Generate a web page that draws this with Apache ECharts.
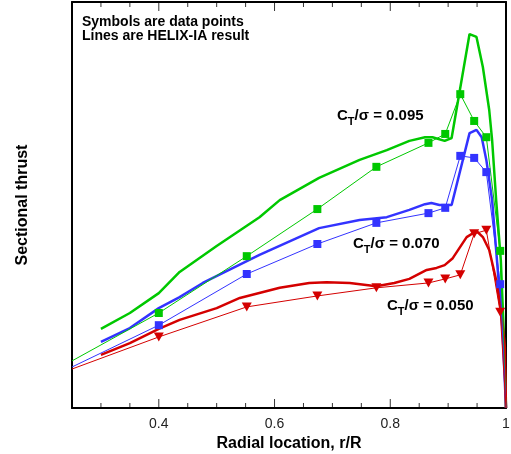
<!DOCTYPE html>
<html><head><meta charset="utf-8">
<script src="https://cdn.jsdelivr.net/npm/echarts@6/dist/echarts.min.js"></script>
<style>html,body{margin:0;padding:0;background:#fff}#c{width:511px;height:454px}</style>
</head><body><div id="c"></div>
<script>
// HELIX-IA result lines [r/R, thrust]
const helix095 = [[0.30,19.5],[0.35,23.4],[0.40,28.3],[0.436,33.5],[0.50,39.9],[0.574,47.0],[0.609,51.2],[0.677,56.7],[0.747,61.1],[0.794,63.5],[0.833,65.8],[0.86,66.7],[0.873,66.7],[0.894,65.8],[0.906,66.5],[0.937,92.1],[0.949,91.4],[0.96,84.0],[0.971,73.4],[0.976,66.0],[0.983,51.2],[0.991,36.5],[0.996,19.2],[1.0,0]];
const helix070 = [[0.30,16.3],[0.35,19.7],[0.40,24.6],[0.436,27.3],[0.476,30.8],[0.574,37.7],[0.677,44.3],[0.747,46.3],[0.794,47.0],[0.833,48.8],[0.86,50.2],[0.871,50.5],[0.885,50.0],[0.906,50.0],[0.937,67.7],[0.949,68.5],[0.958,66.7],[0.966,61.1],[0.976,51.2],[0.983,38.9],[0.994,19.2],[1.0,0]];
const helix050 = [[0.30,13.1],[0.35,16.0],[0.40,19.5],[0.436,21.7],[0.50,24.6],[0.54,27.1],[0.609,29.6],[0.66,30.8],[0.69,31.0],[0.73,30.8],[0.776,30.0],[0.807,30.8],[0.833,31.8],[0.863,34.0],[0.88,34.5],[0.894,35.2],[0.908,36.9],[0.932,42.1],[0.949,43.6],[0.96,42.1],[0.971,38.9],[0.983,31.5],[0.992,23.4],[0.998,15.0],[1.0,0]];
// Measured data points (first and last entries are line ends without symbols)
const data095 = [[0.25,11.6],[0.40,23.4],[0.552,37.4],[0.674,49.0],[0.776,59.4],[0.866,65.3],[0.895,67.5],[0.921,77.3],[0.945,70.7],[0.966,66.7],[0.990,38.7],[1.0,0]];
const data070 = [[0.25,10.1],[0.40,20.4],[0.552,33.0],[0.674,40.4],[0.776,45.6],[0.866,48.0],[0.895,49.3],[0.921,62.1],[0.945,61.6],[0.966,58.1],[0.990,30.5],[1.0,0]];
const data050 = [[0.25,9.6],[0.40,17.5],[0.552,24.9],[0.674,27.6],[0.776,29.6],[0.866,30.8],[0.895,31.8],[0.921,32.8],[0.945,42.9],[0.966,43.8],[0.990,23.6],[1.0,0]];
// Axis tick positions (every 0.05) and labelled majors
const tickValues = [0.30,0.35,0.40,0.45,0.50,0.55,0.60,0.65,0.70,0.75,0.80,0.85,0.90,0.95];
const majorTicks = [0.4,0.6,0.8,1.0];

const FONT = 'Liberation Sans, Arial, Helvetica, sans-serif';
const GREEN = '#00c800', BLUE = '#3333ff', RED = '#d40000';
const Y_MIN = 0, Y_MAX = 100;

function pts(arr){
  return arr.map((p,i)=> (i===0||i===arr.length-1) ? {value:p, symbol:'none'} : {value:p});
}
function isMajor(v){ return majorTicks.some(m=>Math.abs(m-v)<1e-6); }
function tickData(yv, dir){
  return tickValues.map(v=>{
    const len = isMajor(v) ? 9 : 5;
    return {value:[v, yv], symbolSize:[1, len], symbolOffset:[0, dir*len/2]};
  });
}
const tickSeriesBase = {type:'scatter', symbol:'rect', itemStyle:{color:'#000'}, silent:true, clip:false, z:4, emphasis:{disabled:true}};
const chart = echarts.init(document.getElementById('c'));
chart.setOption({
  animation:false,
  grid:{left:72, right:5, top:2, bottom:46, containLabel:false, outerBoundsMode:'none'},
  xAxis:[
    {type:'value', position:'bottom', min:0.25, max:1, interval:0.05,
     axisLine:{show:true, onZero:false, lineStyle:{color:'#000', width:2}},
     axisTick:{show:false},
     axisLabel:{show:true, margin:9, color:'#222', fontFamily:FONT, fontSize:14, showMinLabel:true, showMaxLabel:true, hideOverlap:false,
       formatter:v=> !isMajor(v) ? '' : (Math.abs(v-1)<1e-9 ? '1' : v.toFixed(1))},
     splitLine:{show:false},
     name:'Radial location, r/R', nameLocation:'middle', nameGap:18,
     nameTextStyle:{fontFamily:FONT, fontSize:16, fontWeight:'bold', color:'#000'}},
    {type:'value', position:'top', min:0.25, max:1, interval:0.05,
     axisLine:{show:true, onZero:false, lineStyle:{color:'#000', width:2}},
     axisTick:{show:false}, axisLabel:{show:false}, splitLine:{show:false}}
  ],
  yAxis:[
    {type:'value', position:'left', min:Y_MIN, max:Y_MAX, axisLine:{show:true,onZero:false,lineStyle:{color:'#000',width:2}}, axisTick:{show:false}, axisLabel:{show:false}, splitLine:{show:false},
     name:'Sectional thrust', nameLocation:'middle', nameGap:41, nameTextStyle:{fontFamily:FONT, fontSize:16, fontWeight:'bold', color:'#000'}},
    {type:'value', position:'right', min:Y_MIN, max:Y_MAX, axisLine:{show:true,onZero:false,lineStyle:{color:'#000',width:2}}, axisTick:{show:false}, axisLabel:{show:false}, splitLine:{show:false}}
  ],
  series:[
    Object.assign({}, tickSeriesBase, {data:tickData(Y_MIN, -1)}),
    Object.assign({}, tickSeriesBase, {data:tickData(Y_MAX, 1)}),
    {type:'line', data:helix095, symbol:'none', lineStyle:{color:GREEN, width:2.5}, z:2},
    {type:'line', data:helix070, symbol:'none', lineStyle:{color:BLUE, width:2.5}, z:2},
    {type:'line', data:helix050, symbol:'none', lineStyle:{color:RED, width:2.5}, z:2},
    {type:'line', data:pts(data095), symbol:'rect', symbolSize:8, itemStyle:{color:GREEN}, lineStyle:{color:GREEN, width:1}, z:3},
    {type:'line', data:pts(data070), symbol:'rect', symbolSize:8, itemStyle:{color:BLUE}, lineStyle:{color:BLUE, width:1}, z:3},
    {type:'line', data:pts(data050), symbol:'triangle', symbolRotate:180, symbolSize:[10,9], itemStyle:{color:RED}, lineStyle:{color:RED, width:1}, z:3}
  ],
  graphic:[
    {type:'text', x:82, y:15, style:{text:'Symbols are data points\nLines are HELIX-IA result', font:'bold 14px '+FONT, fill:'#000', lineHeight:14}},
    {type:'text', x:337, y:108, style:{text:'{c|C}{s|T}{c|/σ = 0.095}', rich:{c:{font:'bold 15px '+FONT, fill:'#000', lineHeight:15}, s:{font:'bold 11px '+FONT, fill:'#000', lineHeight:11, padding:[12,0,0,0]}}}},
    {type:'text', x:353, y:236, style:{text:'{c|C}{s|T}{c|/σ = 0.070}', rich:{c:{font:'bold 15px '+FONT, fill:'#000', lineHeight:15}, s:{font:'bold 11px '+FONT, fill:'#000', lineHeight:11, padding:[12,0,0,0]}}}},
    {type:'text', x:387, y:298, style:{text:'{c|C}{s|T}{c|/σ = 0.050}', rich:{c:{font:'bold 15px '+FONT, fill:'#000', lineHeight:15}, s:{font:'bold 11px '+FONT, fill:'#000', lineHeight:11, padding:[12,0,0,0]}}}}
  ]
});
</script></body></html>
